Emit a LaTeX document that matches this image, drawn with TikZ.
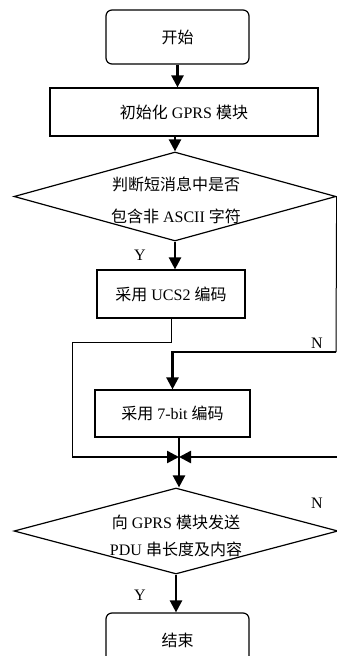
\documentclass[tikz,border=0pt]{standalone}
\usepackage{fontspec}
\setmainfont{Liberation Serif}
\newfontfamily\cjk{Noto Sans CJK SC}
\usetikzlibrary{arrows.meta,shapes.geometric,calc}
\begin{document}
\begin{tikzpicture}[x=1pt,y=-1pt,
  font=\fontsize{16}{28}\selectfont,
  boxline/.style={draw=black,line width=1.2pt,inner sep=0pt},
  procbox/.style={boxline,rectangle},
  termbox/.style={boxline,rectangle,rounded corners=6pt},
  decbox/.style={boxline,diamond,aspect=3.6},
  thinline/.style={draw=black,line width=1pt},
  thickline/.style={draw=black,line width=2.4pt},
  flowarrow/.style={thickline,-{Triangle[length=12pt,width=12pt]}},
  lab/.style={inner sep=0pt,font=\fontsize{16}{16}\selectfont}
]
\useasboundingbox (0,0) rectangle (337,656);
\fill[white] (0,0) rectangle (337,656);

% nodes
\node[termbox,minimum width=143pt,minimum height=54pt] (start) at (177.5,37) {{\cjk 开始}};
\node[procbox,minimum width=268pt,minimum height=48pt] (init) at (184,112) {{\cjk 初始化} GPRS {\cjk 模块}};
\node[decbox,minimum width=322pt,minimum height=89pt] (d1) at (175,196.5) {};
\node[align=center,inner sep=0pt] (d1t) at (176,200) {{\cjk 判断短消息中是否}\\[4pt]{\cjk 包含非} ASCII {\cjk 字符}};
\node[procbox,minimum width=148pt,minimum height=48pt] (ucs) at (171,294) {{\cjk 采用} UCS2 {\cjk 编码}};
\node[procbox,minimum width=155pt,minimum height=47pt] (bit7) at (172.5,413.5) {{\cjk 采用} 7-bit {\cjk 编码}};
\node[decbox,minimum width=324pt,minimum height=86pt] (d2) at (176,531) {};
\node[align=center,inner sep=0pt] (d2t) at (176,536) {{\cjk 向} GPRS {\cjk 模块发送}\\[-1pt]PDU {\cjk 串长度及内容}};
\node[termbox,minimum width=143pt,minimum height=54pt] (end) at (177.5,640) {{\cjk 结束}};

% labels
\node[lab] (y1) at (140,255) {Y};
\node[lab] (n1l) at (317,343) {N};
\node[lab] (n2l) at (317,503) {N};
\node[lab] (y2) at (140,595) {Y};

% helper coordinates
\coordinate (m) at (179,457);
\coordinate (c1) at (72,342);
\coordinate (c2) at (72,457);
\coordinate (n1) at (336,352);
\coordinate (n2) at (338,457);

% connectors
\draw[flowarrow] (start.south) -- (start.south |- init.north);
\draw[flowarrow] (init.south -| d1.north) -- (d1.north);
\draw[flowarrow] (d1.south) -- (d1.south |- ucs.north);
\draw[thinline] (ucs.south) -- (ucs.south |- c1) -- (c1) -- (c2);
\draw[flowarrow] (c2) -- (m);
\draw[thinline] (d1.east) -- (n1);
\draw[flowarrow] (n1) -| (bit7.north);
\draw[thickline] (bit7.south -| m) -- (m);
\draw[flowarrow] (m) -- (m |- d2.north);
\draw[thinline] (d2.east) -- (n2);
\draw[flowarrow] (n2) -- (m);
\draw[flowarrow] (d2.south) -- (d2.south |- end.north);
\end{tikzpicture}
\end{document}
